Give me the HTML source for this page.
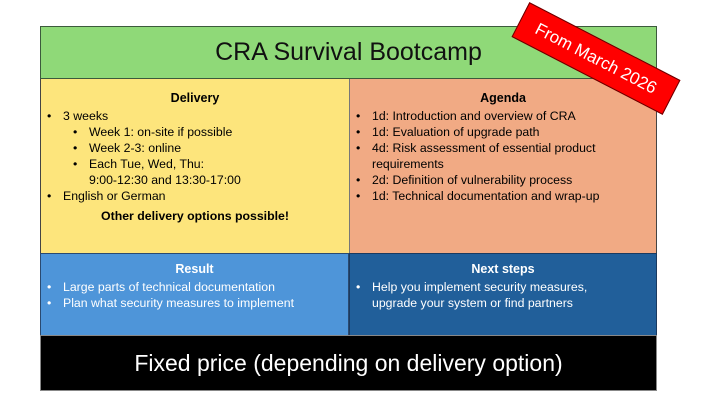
<!DOCTYPE html>
<html><head><meta charset="utf-8"><style>
*{margin:0;padding:0;box-sizing:border-box}
body{width:720px;height:404px;background:#fff;position:relative;overflow:hidden;font-family:"Liberation Sans",sans-serif;}
.b{position:absolute;}
.title{left:40px;top:26px;width:617px;height:53px;background:#8fd978;border:1px solid #3c5a3c;font-size:25px;text-align:center;line-height:51px;color:#111;}
.y{left:40px;top:79px;width:309px;height:175px;background:#fde57c;border-left:1px solid #444;}
.o{left:349px;top:79px;width:308px;height:175px;background:#f1aa84;border-left:1px solid #777;border-right:1px solid #444;}
.lb{left:40px;top:253px;width:309px;height:83px;background:#4e95d9;border:1px solid #2a4a70;color:#fff;}
.db{left:349px;top:253px;width:308px;height:83px;background:#215f9a;border:1px solid #1a3a60;color:#fff;}
.k{left:40px;top:335px;width:617px;height:56px;background:#000;color:#fff;font-size:23px;text-align:center;line-height:54px;border:1px solid #888;}
h3{font-size:12.5px;text-align:center;font-weight:bold;margin-top:12px;margin-bottom:3px;}
ul{list-style:none;font-size:12.3px;line-height:16px;}
li{position:relative;padding-left:22px;}
li:before{content:"•";position:absolute;left:6px;}
li.s{padding-left:48px}
li.s:before{left:32px}
.red{left:511px;top:39px;width:170px;height:39px;background:#f00;border:1px solid #600;color:#fff;font-size:17px;text-align:center;line-height:37px;transform:rotate(27.3deg);transform-origin:center;}
</style></head><body>
<div class="b title">CRA Survival Bootcamp</div>
<div class="b y"><h3>Delivery</h3><ul>
<li>3 weeks</li>
<li class="s">Week 1: on-site if possible</li>
<li class="s">Week 2-3: online</li>
<li class="s">Each Tue, Wed, Thu:<br>9:00-12:30 and 13:30-17:00</li>
<li>English or German</li></ul>
<div style="font-size:12.3px;font-weight:bold;text-align:center;margin-top:5px">Other delivery options possible!</div></div>
<div class="b o"><h3>Agenda</h3><ul>
<li>1d: Introduction and overview of CRA</li>
<li>1d: Evaluation of upgrade path</li>
<li>4d: Risk assessment of essential product requirements</li>
<li>2d: Definition of vulnerability process</li>
<li>1d: Technical documentation and wrap-up</li></ul></div>
<div class="b lb"><h3 style="margin-top:8px">Result</h3><ul>
<li>Large parts of technical documentation</li>
<li>Plan what security measures to implement</li></ul></div>
<div class="b db"><h3 style="margin-top:8px">Next steps</h3><ul>
<li>Help you implement security measures,<br>upgrade your system or find partners</li></ul></div>
<div class="b k">Fixed price (depending on delivery option)</div>
<div class="b red">From March 2026</div>
</body></html>
